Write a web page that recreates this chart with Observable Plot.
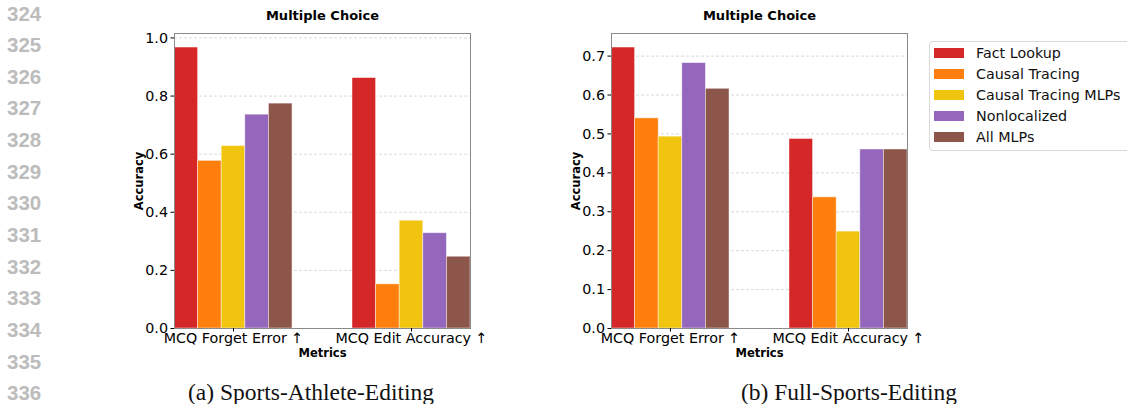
<!DOCTYPE html>
<html>
<head>
<meta charset="utf-8">
<script src="https://cdn.jsdelivr.net/npm/d3@7"></script>
<script src="https://cdn.jsdelivr.net/npm/@observablehq/plot@0.6"></script>
<style>
  html, body { margin: 0; padding: 0; background: #fff; }
  #root { position: relative; width: 1127px; height: 404px; overflow: hidden; font-family: "DejaVu Sans", sans-serif; }
  .abs { position: absolute; }
  .lineno { position: absolute; left: 7px; width: 36px; font-family: "Liberation Sans", Arial, sans-serif; font-weight: bold; font-size: 20.5px; color: #bcbcbc; line-height: 1; transform: translateY(-50%); }
  .caption { position: absolute; font-family: "Liberation Serif", "Times New Roman", serif; font-size: 23.5px; color: #111; line-height: 1; transform: translate(-50%, -50%); white-space: nowrap; }
  #legendbox { position: absolute; left: 929px; top: 41px; width: 220px; height: 110px; border: 1px solid #d8d8d8; border-radius: 4px; box-sizing: border-box; }
  #legendbox > div { position: absolute; left: 4px; top: 0px; margin: 0 !important; }
  #legendbox .lg-swatch { font-family: "DejaVu Sans", sans-serif !important; font-size: 14.3px !important; color: #111 !important; height: 21.2px; margin: 0 !important; padding: 0 !important; display: flex; align-items: center; box-sizing: border-box; }
  #legendbox .lg-swatch svg { margin-right: 12px !important; }
</style>
</head>
<body>
<div id="root"></div>
<script>
// ---- data ----
const methods = ["Fact Lookup", "Causal Tracing", "Causal Tracing MLPs", "Nonlocalized", "All MLPs"];
const methodColors = ["#d62728", "#ff7f0e", "#f1c40f", "#9467bd", "#8c564b"];
const metrics = ["MCQ Forget Error \u2191", "MCQ Edit Accuracy \u2191"];
const athleteForget = [0.967, 0.577, 0.628, 0.736, 0.774];
const athleteEdit   = [0.862, 0.152, 0.371, 0.328, 0.247];
const fullForget    = [0.722, 0.540, 0.493, 0.682, 0.616];
const fullEdit      = [0.487, 0.337, 0.249, 0.460, 0.460];
const athleteTicks = [0, 0.2, 0.4, 0.6, 0.8, 1.0];
const fullTicks = [0, 0.1, 0.2, 0.3, 0.4, 0.5, 0.6, 0.7];
const panelTitle = "Multiple Choice";
const xLabel = "Metrics";
const yLabel = "Accuracy";
const captions = ["(a) Sports-Athlete-Editing", "(b) Full-Sports-Editing"];
const lineNumbers = [324, 325, 326, 327, 328, 329, 330, 331, 332, 333, 334, 335, 336];

const root = document.getElementById("root");
const barW = 0.1326; // bar width in metric-group units

function rowsFor(groups) {
  const rows = [];
  groups.forEach((vals, g) => {
    vals.forEach((v, m) => {
      rows.push({metric: g, method: methods[m], value: v,
        x1: g + (m - 2.5) * barW, x2: g + (m - 1.5) * barW});
    });
  });
  return rows;
}

function panel(groups, ticks, left) {
  const rows = rowsFor(groups);
  const maxV = d3.max(rows, d => d.value);
  const chart = Plot.plot({
    width: 370, height: 365,
    marginLeft: 54, marginRight: 20, marginTop: 33, marginBottom: 37,
    style: {fontFamily: "DejaVu Sans, sans-serif", fontSize: "14px", color: "#000", background: "transparent", overflow: "visible"},
    x: {domain: [-2.5 * barW, 1 + 2.5 * barW]},
    y: {domain: [0, maxV * 1.05]},
    color: {domain: methods, range: methodColors},
    marks: [
      Plot.gridY(ticks, {stroke: "#cfcfcf", strokeOpacity: 1, strokeDasharray: "3,2", strokeWidth: 0.8}),
      Plot.rectY(rows, {x1: "x1", x2: "x2", y1: 0, y2: "value", fill: "method", stroke: "white", strokeWidth: 0.8, strokeOpacity: 0.55}),
      Plot.frame({stroke: "#8a8a8a", strokeWidth: 1}),
      Plot.axisY({ticks, tickFormat: d3.format(".1f"), tickSize: 3.5, tickPadding: 3, label: null, fontSize: 14.3}),
      Plot.axisX({ticks: [0, 1], tickFormat: i => metrics[i], tickSize: 3.5, tickPadding: 1, label: null, fontSize: 14.3}),
      Plot.text([panelTitle], {frameAnchor: "top", lineAnchor: "middle", dy: -18, fontWeight: "bold", fontSize: 13}),
      Plot.text([xLabel], {frameAnchor: "bottom", lineAnchor: "middle", dy: 25, fontWeight: "bold", fontSize: 11.5}),
      Plot.text([yLabel], {frameAnchor: "left", lineAnchor: "middle", textAnchor: "middle", dx: -35, rotate: -90, fontWeight: "bold", fontSize: 11.5})
    ]
  });
  chart.classList.add("abs");
  chart.style.left = left + "px";
  chart.style.top = "0px";
  root.appendChild(chart);
}

panel([athleteForget, athleteEdit], athleteTicks, 120);
panel([fullForget, fullEdit], fullTicks, 557);

// legend
const lg = document.createElement("div");
lg.id = "legendbox";
const leg = Plot.legend({
  color: {type: "ordinal", domain: methods, range: methodColors},
  legend: "swatches", columns: 1, swatchWidth: 30, swatchHeight: 10, className: "lg"
});
lg.appendChild(leg);
root.appendChild(lg);

// line numbers
lineNumbers.forEach((n, i) => {
  const d = document.createElement("div");
  d.className = "lineno";
  d.style.top = (13.5 + i * 31.65) + "px";
  d.textContent = n;
  root.appendChild(d);
});

// captions
[[311, captions[0]], [849, captions[1]]].forEach(([cx, t]) => {
  const d = document.createElement("div");
  d.className = "caption";
  d.style.left = cx + "px";
  d.style.top = "393px";
  d.textContent = t;
  root.appendChild(d);
});
</script>
</body>
</html>
